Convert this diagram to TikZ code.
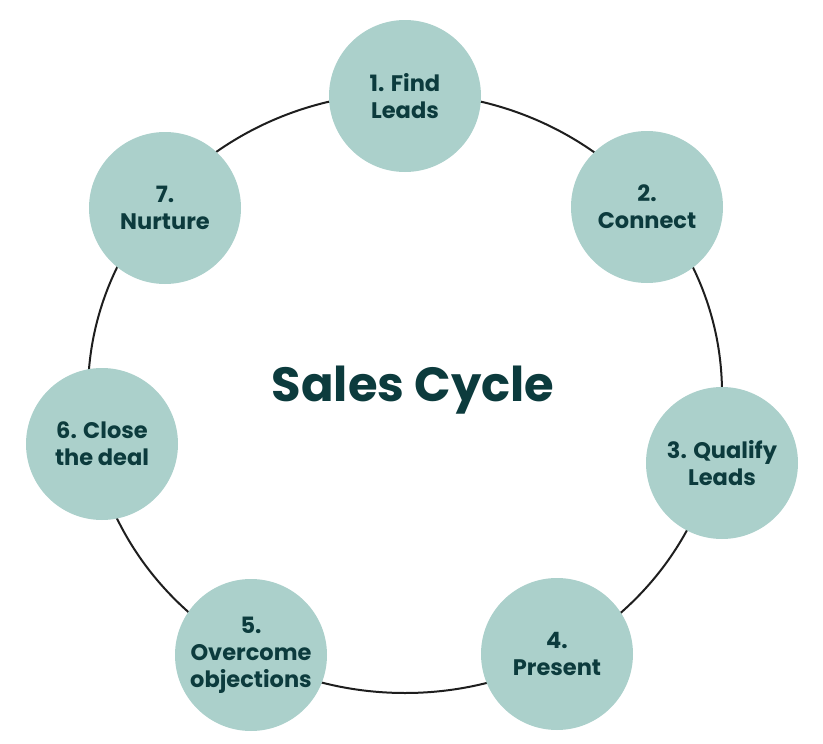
\documentclass[tikz,border=0pt]{standalone}
\usepackage{fontspec}
\setmainfont{Poppins}
\definecolor{stagefill}{HTML}{ABD0CB}
\definecolor{stagetext}{HTML}{0C3B3D}
\definecolor{ringline}{HTML}{1E1E1E}
\begin{document}
\begin{tikzpicture}[x=1pt,y=-1pt,
  stage/.style={circle,fill=stagefill,draw=none,minimum size=152pt,inner sep=0pt,
    align=center,text=stagetext,font=\fontsize{22.5}{27}\selectfont\bfseries},
  ring/.style={draw=ringline,line width=2pt}]
\useasboundingbox (0,0) rectangle (823,744);
\draw[ring] (405,393) ellipse [x radius=317, y radius=300];
\node[stage] (s1) at (405,96) {1. Find\\Leads};
\node[stage] (s2) at (647,207) {2.\\Connect};
\node[stage] (s3) at (722,463) {3. Qualify\\Leads};
\node[stage] (s4) at (557,654) {4.\\Present};
\node[stage] (s5) at (251,655) {5.\\Overcome\\objections};
\node[stage] (s6) at (102,444) {6. Close\\the deal};
\node[stage] (s7) at (165,208) {7.\\Nurture};
\node[text=stagetext,font=\fontsize{48}{52}\selectfont\bfseries] (title) at (413,390) {Sales Cycle};
\end{tikzpicture}
\end{document}
